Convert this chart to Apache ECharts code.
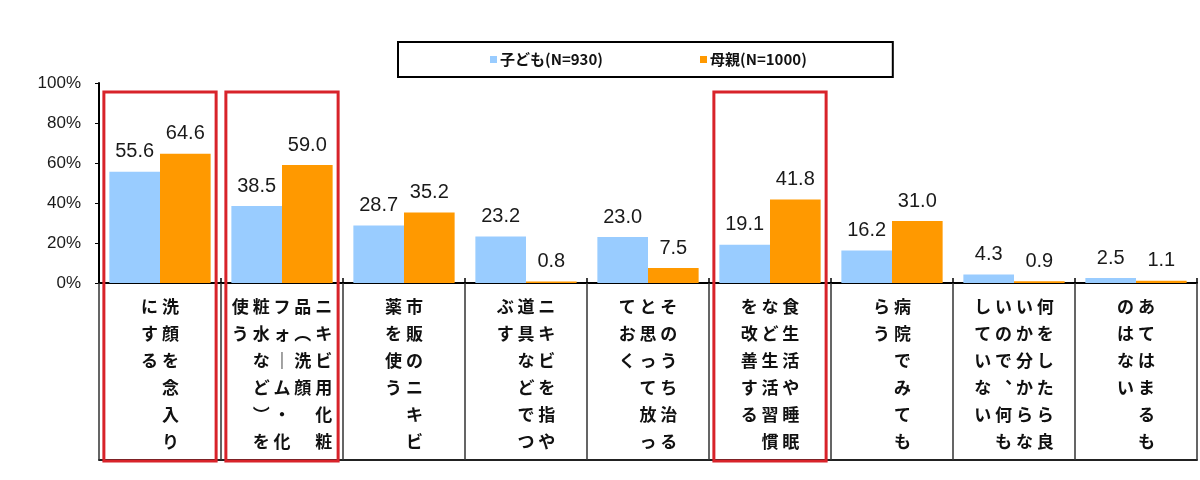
<!DOCTYPE html>
<html>
<head>
<meta charset="utf-8">
<script src="https://cdn.jsdelivr.net/npm/echarts@6/dist/echarts.min.js"></script>
<style>
  html, body { margin: 0; padding: 0; background: #fff; }
  #main { width: 1200px; height: 480px; }
</style>
</head>
<body>
<div id="main"></div>
<script>
(function() {

  // column breaks of the vertical cell text are marked with \n
  var categories = [
    '洗顔を念入り\nにする',
    'ニキビ用化粧\n品（洗顔\nフォーム・化\n粧水など）を\n使う',
    '市販のニキビ\n薬を使う',
    'ニキビを指や\n道具などでつ\nぶす',
    'そのうち治る\nと思って放っ\nておく',
    '食生活や睡眠\nなど生活習慣\nを改善する',
    '病院でみても\nらう',
    '何をしたら良\nいか分からな\nいので、何も\nしていない',
    'あてはまるも\nのはない'
  ];
  var childName = '子ども(N=930)';
  var motherName = '母親(N=1000)';
  var childValues = [55.6, 38.5, 28.7, 23.2, 23.0, 19.1, 16.2, 4.3, 2.5];
  var motherValues = [64.6, 59.0, 35.2, 0.8, 7.5, 41.8, 31.0, 0.9, 1.1];
  var highlighted = [0, 1, 5];

  var tableHeight = 177;
  var vertForms = { '（': '︵', '）': '︶', 'ー': '｜', '、': '︑' };

  // lay out tategaki: first column on the right
  var toVertical = function(text) {
    var cols = text.split('\n').map(function(c) { return Array.from(c); });
    var n = Math.max.apply(null, cols.map(function(c) { return c.length; }));
    var rows = [];
    for (var r = 0; r < n; r++) {
      var row = [];
      for (var k = cols.length - 1; k >= 0; k--) {
        var ch = cols[k][r] || '　';
        row.push(vertForms[ch] || ch);
      }
      rows.push(row.join(' '));
    }
    return rows.join('\n');
  };

  var myChart = echarts.init(document.getElementById('main'));

  var barLabel = {
    show: true,
    position: 'top',
    distance: 10,
    fontFamily: '"Liberation Sans Narrow", "Liberation Sans", Arial',
    fontSize: 20,
    color: '#1a1a1a',
    formatter: function(p) { return p.value.toFixed(1); }
  };

  var option = {
    animation: false,
    textStyle: {
      fontFamily: '"Noto Sans CJK JP", sans-serif'
    },
    legend: {
      data: [childName, motherName],
      left: 398,
      top: 42,
      padding: [10, 86, 10, 92],
      itemGap: 97,
      itemWidth: 7,
      itemHeight: 7,
      itemStyle: { borderWidth: 0 },
      icon: 'rect',
      borderColor: '#000',
      borderWidth: 2,
      textStyle: {
        fontFamily: '"Noto Sans CJK JP", sans-serif',
        fontSize: 15,
        fontWeight: 'bold',
        color: '#111',
        padding: [0, 0, 0, -2]
      }
    },
    grid: {
      left: 99,
      right: 3,
      top: 83,
      bottom: 197,
      containLabel: false
    },
    xAxis: [{
      type: 'category',
      data: categories,
      axisLine: { lineStyle: { color: '#000', width: 2 } },
      axisTick: {
        show: true,
        interval: 0,
        length: tableHeight,
        lineStyle: { color: '#333', width: 1.5 }
      },
      axisLabel: {
        interval: 0,
        margin: 10,
        fontFamily: '"Noto Sans CJK JP", sans-serif',
        fontSize: 17,
        fontWeight: 'bold',
        lineHeight: 27,
        color: '#111',
        formatter: function(v) { return toVertical(v); }
      }
    }, {
      // bottom edge of the label table
      type: 'category',
      data: categories,
      position: 'bottom',
      offset: tableHeight,
      axisLine: { lineStyle: { color: '#222', width: 2 } },
      axisTick: { show: false },
      axisLabel: { show: false }
    }, {
      // short tick stubs above the baseline
      type: 'category',
      data: categories,
      position: 'bottom',
      axisLine: { show: false },
      axisTick: {
        show: true,
        inside: true,
        interval: 0,
        length: 5,
        lineStyle: { color: '#000', width: 1.5 }
      },
      axisLabel: { show: false }
    }],
    yAxis: [{
      type: 'value',
      min: 0,
      max: 100,
      interval: 20,
      splitLine: { show: false },
      axisLine: { show: true, lineStyle: { color: '#000', width: 2 } },
      axisTick: { show: true, length: 4, lineStyle: { color: '#000' } },
      axisLabel: {
        margin: 18,
        fontFamily: '"Liberation Sans Narrow", "Liberation Sans", Arial',
        fontSize: 17,
        color: '#1a1a1a',
        formatter: '{value}%'
      }
    }],
    series: [{
      name: childName,
      type: 'bar',
      data: childValues,
      barGap: '0%',
      barCategoryGap: '17%',
      itemStyle: { color: '#99ccff' },
      label: barLabel
    }, {
      name: motherName,
      type: 'bar',
      data: motherValues,
      itemStyle: { color: '#ff9900' },
      label: barLabel
    }, {
      name: 'highlight',
      type: 'custom',
      clip: false,
      z: 5,
      silent: true,
      data: highlighted.map(function(i) { return [i]; }),
      renderItem: function(params, api) {
        var idx = api.value(0);
        var band = api.size([1, 0])[0];
        var top = api.coord([idx, 95.5]);
        var base = api.coord([idx, 0]);
        var w = band * 0.92;
        return {
          type: 'rect',
          shape: {
            x: top[0] - w / 2,
            y: top[1],
            width: w,
            height: base[1] - top[1] + tableHeight + 1
          },
          style: {
            fill: 'none',
            stroke: '#d8232a',
            lineWidth: 3
          }
        };
      }
    }]
  };

  myChart.setOption(option);

})();
</script>
</body>
</html>
